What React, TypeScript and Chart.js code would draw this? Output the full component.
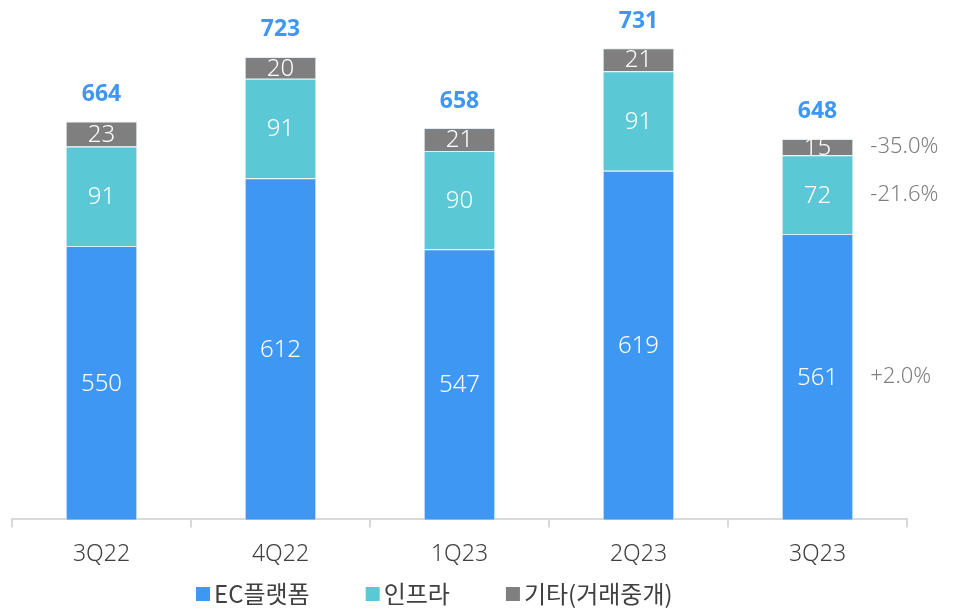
import React, { useEffect, useRef } from 'react';
import { Chart, registerables } from 'chart.js';

Chart.register(...registerables);

const categories = ['3Q22', '4Q22', '1Q23', '2Q23', '3Q23'];
const ecPlatform = [550, 612, 547, 619, 561];
const infra = [91, 91, 90, 91, 72];
const other = [23, 20, 21, 21, 15];
const totals = [664, 723, 658, 731, 648];
const lastChange = ['+2.0%', '-21.6%', '-35.0%'];
const seriesLabels = ['EC플랫폼', '인프라', '기타(거래중개)'];
const seriesColors = ['#3F97F4', '#5BC8D5', '#7F7F7F'];

const NUM_FONT = '"Noto Sans", "Noto Sans CJK KR", sans-serif';
const KR_FONT = '"Noto Sans CJK KR", "Noto Sans", sans-serif';

const labelPlugin = {
  id: 'customLabels',
  afterDatasetsDraw(chart: any) {
    const ctx = chart.ctx;
    const bottom = chart.chartArea.bottom;
    ctx.save();
    ctx.textBaseline = 'middle';
    const n = chart.data.datasets.length;
    for (let i = 0; i < n; i++) {
      const meta = chart.getDatasetMeta(i);
      meta.data.forEach((el: any, j: number) => {
        const p = el.getProps(['x', 'y', 'base', 'width'], true);
        const base = Math.min(p.base, bottom);
        const mid = (p.y + base) / 2;
        const v = chart.data.datasets[i].data[j];
        ctx.fillStyle = '#FFFFFF';
        ctx.font = `300 24px ${NUM_FONT}`;
        ctx.textAlign = 'center';
        ctx.fillText(String(v), p.x, mid + 1);
        if (i === n - 1) {
          ctx.fillStyle = '#3F97F4';
          ctx.font = `bold 23px ${NUM_FONT}`;
          ctx.fillText(String(totals[j]), p.x, p.y - 27);
        }
        if (j === meta.data.length - 1) {
          ctx.fillStyle = '#7F7F7F';
          ctx.font = `300 22px ${NUM_FONT}`;
          ctx.textAlign = 'left';
          ctx.fillText(lastChange[i], p.x + p.width / 2 + 17, mid);
        }
      });
    }
    ctx.restore();
  },
  afterDraw(chart: any) {
    const ctx = chart.ctx;
    ctx.save();
    ctx.textBaseline = 'middle';
    ctx.textAlign = 'left';
    ctx.font = `400 24px ${KR_FONT}`;
    let x = 196;
    const y = 594;
    chart.data.datasets.forEach((ds: any) => {
      ctx.fillStyle = ds.backgroundColor;
      ctx.fillRect(x, y - 7, 14, 14);
      ctx.fillStyle = '#404040';
      ctx.fillText(ds.label, x + 18, y);
      x += 18 + ctx.measureText(ds.label).width + 56;
    });
    ctx.restore();
  },
};

export default function App() {
  const ref = useRef<HTMLCanvasElement | null>(null);
  useEffect(() => {
    if (!ref.current) return;
    const chart = new Chart(ref.current, {
      type: 'bar',
      data: {
        labels: categories,
        datasets: [ecPlatform, infra, other].map((d, i) => ({
          label: seriesLabels[i],
          data: d,
          backgroundColor: seriesColors[i],
          borderColor: 'rgba(225,235,242,0.9)',
          borderWidth: 1,
          categoryPercentage: 0.8,
          barPercentage: 0.5,
        })),
      },
      options: {
        animation: false,
        responsive: true,
        maintainAspectRatio: false,
        layout: { padding: { left: 12, right: 59, top: 11, bottom: 32 } },
        plugins: {
          legend: { display: false },
          tooltip: { enabled: false },
        },
        scales: {
          x: {
            stacked: true,
            grid: {
              display: true,
              drawOnChartArea: false,
              drawTicks: true,
              tickLength: 8,
              color: '#D9D9D9',
              lineWidth: 2,
              offset: true,
            },
            border: { display: true, color: '#D9D9D9', width: 2 },
            ticks: {
              padding: 13,
              color: '#404040',
              font: { family: NUM_FONT, size: 23, weight: 300 as any },
            },
          },
          y: {
            stacked: true,
            display: false,
            min: 300,
            max: 765,
          },
        },
      },
      plugins: [labelPlugin],
    });
    return () => chart.destroy();
  }, []);
  return (
    <div style={{ position: 'absolute', left: 0, top: 0, width: 966, height: 613 }}>
      <canvas ref={ref} />
    </div>
  );
}
